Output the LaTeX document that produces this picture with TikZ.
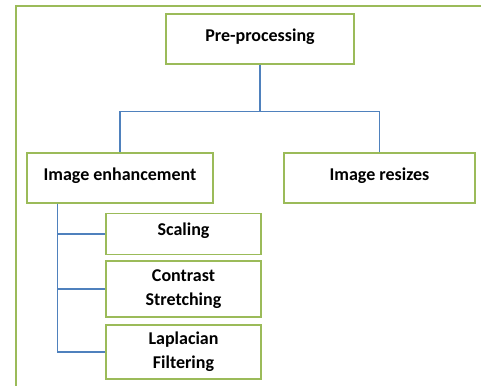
\documentclass[tikz,border=0pt]{standalone}
\usepackage{fontspec}
\setmainfont{Carlito}
\definecolor{boxgreen}{RGB}{155,187,89}
\definecolor{lineblue}{RGB}{79,129,189}
\tikzset{
  stage/.style={draw=boxgreen, line width=1pt, rectangle, inner sep=0.75pt,
    font=\bfseries\fontsize{13.5}{18}\selectfont, align=center},
  upper/.style={text height=10pt, text depth=7pt},
  conn/.style={draw=lineblue, line width=0.9pt}
}
\begin{document}
\begin{tikzpicture}[x=0.75pt,y=0.75pt,yscale=-1,xscale=1]
\useasboundingbox (0,0) rectangle (481,385);

%Frame
\draw [boxgreen, line width=1pt] (16,386) -- (16,6) -- (482,6) ;

% Text Node
\node [stage, upper, minimum width=141pt, minimum height=37.5pt] (pre) at (260,39) {Pre-processing};
% Text Node
\node [stage, upper, minimum width=139.5pt, minimum height=37.5pt] (enh) at (120,178) {Image enhancement};
% Text Node
\node [stage, upper, minimum width=143.25pt, minimum height=37.5pt] (res) at (379.5,178) {Image resizes};
% Text Node
\node [stage, text height=10pt, text depth=8pt, minimum width=116.25pt, minimum height=30.75pt] (scl) at (183.5,234) {Scaling};
% Text Node
\node [stage, minimum width=116.25pt, minimum height=42pt] (con) at (183.5,289) {Contrast\\Stretching};
% Text Node
\node [stage, minimum width=116.25pt, minimum height=40.5pt] (lap) at (183.5,352) {Laplacian\\Filtering};

%Straight Lines
\draw [conn] (pre.south) -- ++(0,47) -| (enh.north) ;
\draw [conn] (pre.south) -- ++(0,47) -| (res.north) ;
%Straight Lines
\draw [conn] (enh.south west) ++(31,0) coordinate (trunk) |- (lap.west) ;
\draw [conn] (trunk) |- (scl.west) ;
\draw [conn] (trunk) |- (con.west) ;

\end{tikzpicture}
\end{document}
